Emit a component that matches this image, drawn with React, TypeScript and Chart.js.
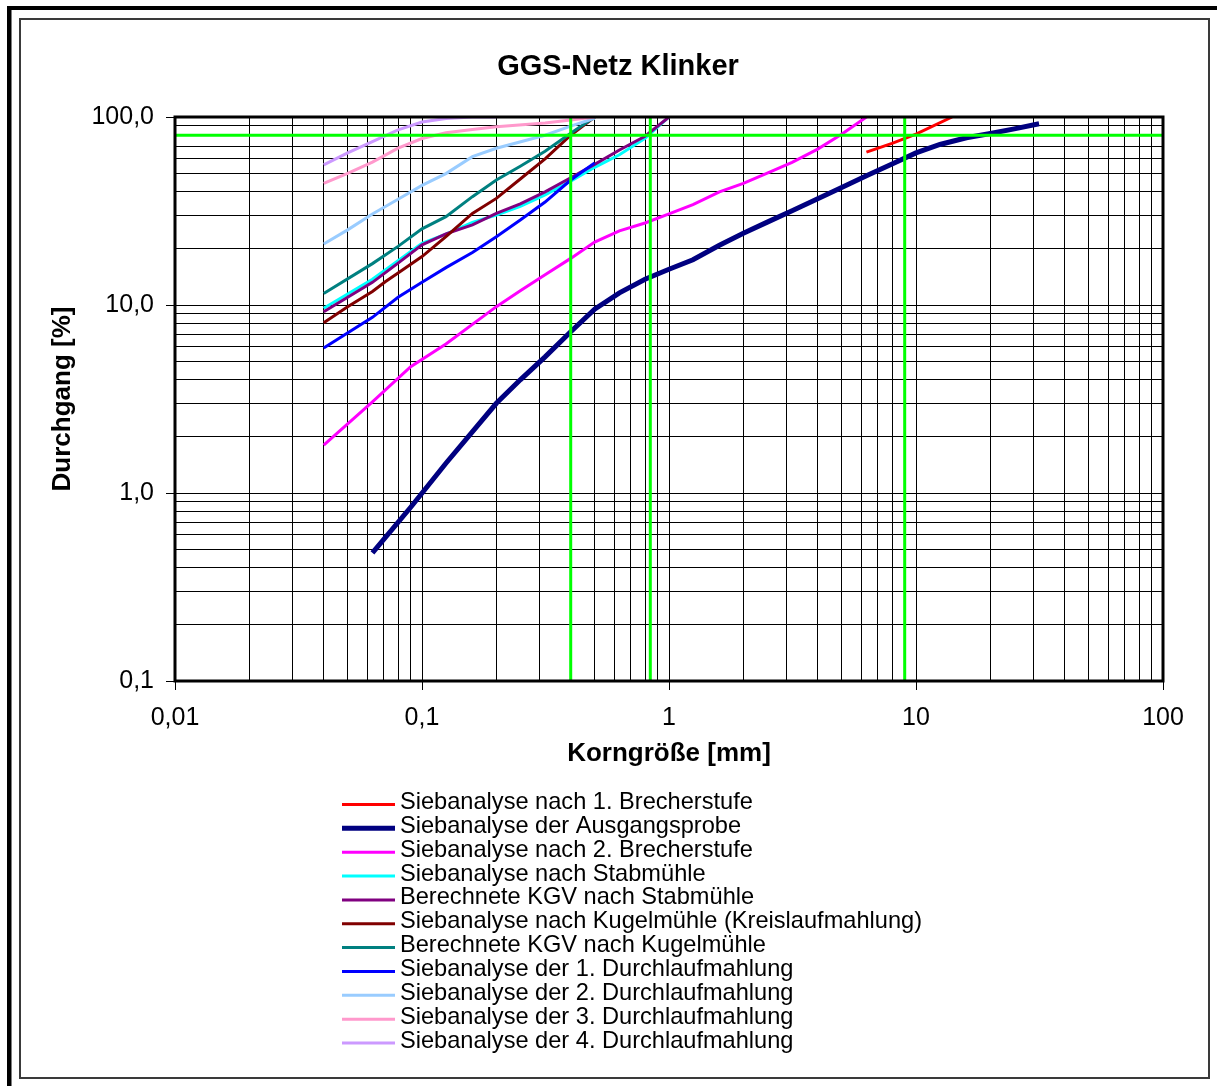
import React, { useEffect, useRef } from "react";
import { Chart, registerables } from "chart.js";

Chart.register(...registerables);

const FONT = '"Liberation Sans", Arial, Helvetica, sans-serif';

const chartTitle = "GGS-Netz Klinker";
const xAxisTitle = "Korngröße [mm]";
const yAxisTitle = "Durchgang [%]";

const xTickValues = [0.01, 0.1, 1, 10, 100];
const xTickLabels = ["0,01", "0,1", "1", "10", "100"];
const yTickValues = [0.1, 1, 10, 100];
const yTickLabels = ["0,1", "1,0", "10,0", "100,0"];

const seriesNames = [
  "Siebanalyse nach 1. Brecherstufe",
  "Siebanalyse der Ausgangsprobe",
  "Siebanalyse nach 2. Brecherstufe",
  "Siebanalyse nach Stabmühle",
  "Berechnete KGV nach Stabmühle",
  "Siebanalyse nach Kugelmühle (Kreislaufmahlung)",
  "Berechnete KGV nach Kugelmühle",
  "Siebanalyse der 1. Durchlaufmahlung",
  "Siebanalyse der 2. Durchlaufmahlung",
  "Siebanalyse der 3. Durchlaufmahlung",
  "Siebanalyse der 4. Durchlaufmahlung",
];
const seriesColors = [
  "#FF0000", "#000080", "#FF00FF", "#00FFFF", "#800080", "#800000",
  "#008080", "#0000FF", "#99CCFF", "#FF99CC", "#CC99FF",
];
const seriesWidths = [3, 5, 3, 3, 3, 3, 3, 3, 3, 3, 3];

// Korngröße [mm] / Durchgang [%]
const brecher1X = [6.3, 8, 10, 14];
const brecher1Y = [65, 72.4, 81, 100];

const ausgangX = [0.063, 0.09, 0.125, 0.2, 0.25, 0.315, 0.4, 0.5, 0.63, 0.8, 1, 1.25, 1.6, 2, 2.5, 3.15, 4, 5, 6.3, 8, 10, 12.5, 16, 20, 25, 31.5];
const ausgangY = [0.48, 0.84, 1.44, 3.0, 4.0, 5.3, 7.2, 9.5, 11.6, 13.7, 15.5, 17.4, 20.8, 24.1, 27.6, 31.7, 36.7, 42.2, 48.7, 56.2, 64.4, 71.4, 77.5, 81.7, 86.5, 92.0];

const brecher2X = [0.04, 0.063, 0.09, 0.125, 0.2, 0.25, 0.315, 0.4, 0.5, 0.63, 0.8, 1, 1.25, 1.6, 2, 2.5, 3.15, 4, 5, 6.3];
const brecher2Y = [1.8, 3.05, 4.7, 6.2, 9.8, 11.9, 14.5, 17.7, 21.6, 24.8, 27.3, 30.5, 34.2, 40, 44.4, 50.3, 57.4, 67.5, 81, 100];

const stabX = [0.04, 0.063, 0.08, 0.1, 0.125, 0.16, 0.2, 0.25, 0.315, 0.4, 0.5, 0.63, 0.8, 1];
const stabY = [9.6, 13.7, 17.2, 21.3, 23.8, 27.5, 30.1, 33.5, 38.5, 45.5, 54, 63, 77, 100];

const kgvStabX = [0.04, 0.063, 0.08, 0.1, 0.125, 0.16, 0.2, 0.25, 0.315, 0.4, 0.5, 0.63, 0.8, 1];
const kgvStabY = [9.2, 13.2, 16.7, 20.9, 23.9, 26.7, 30.7, 34.5, 40, 47.5, 56, 66.8, 79, 100];

const kugelX = [0.04, 0.05, 0.063, 0.071, 0.08, 0.1, 0.125, 0.16, 0.2, 0.25, 0.315, 0.4, 0.5];
const kugelY = [8.05, 9.8, 11.8, 13.3, 14.8, 18.1, 23.1, 30.7, 36.9, 46.8, 59.9, 80, 100];

const kgvKugelX = [0.04, 0.063, 0.08, 0.1, 0.125, 0.16, 0.2, 0.25, 0.315, 0.4, 0.5];
const kgvKugelY = [11.5, 16.6, 20.5, 25.4, 29.5, 37.7, 46.2, 54.7, 65.7, 82, 100];

const durch1X = [0.04, 0.063, 0.08, 0.1, 0.125, 0.16, 0.2, 0.25, 0.315, 0.4, 0.5];
const durch1Y = [5.9, 8.6, 11.0, 13.2, 15.8, 19.0, 23.1, 28.3, 35.3, 46.2, 57];

const durch2X = [0.04, 0.05, 0.063, 0.08, 0.1, 0.125, 0.16, 0.2, 0.315, 0.4, 0.5];
const durch2Y = [21.1, 25.1, 30.5, 36.5, 43.3, 50, 61.5, 68.2, 80, 89.5, 98.5];

const durch3X = [0.04, 0.05, 0.063, 0.08, 0.1, 0.125, 0.16, 0.2, 0.315, 0.4, 0.5];
const durch3Y = [44.4, 50.2, 57.5, 68.3, 76.8, 82.5, 85.8, 88.8, 93, 96.5, 100];

const durch4X = [0.04, 0.05, 0.063, 0.08, 0.1, 0.125, 0.16, 0.2];
const durch4Y = [55.6, 64.5, 74, 85.5, 94, 98.3, 100, 100];

const seriesX = [brecher1X, ausgangX, brecher2X, stabX, kgvStabX, kugelX, kgvKugelX, durch1X, durch2X, durch3X, durch4X];
const seriesY = [brecher1Y, ausgangY, brecher2Y, stabY, kgvStabY, kugelY, kgvKugelY, durch1Y, durch2Y, durch3Y, durch4Y];

// green reference lines
const markerX = [0.4, 0.84, 9];
const markerY = [80];

function logTicks(min: number, max: number) {
  const out: { value: number; major: boolean }[] = [];
  const e0 = Math.round(Math.log10(min));
  const e1 = Math.round(Math.log10(max));
  for (let e = e0; e < e1; e++) {
    for (let k = 1; k <= 9; k++) {
      out.push({ value: Number((k * Math.pow(10, e)).toPrecision(6)), major: k === 1 });
    }
  }
  out.push({ value: max, major: true });
  return out;
}

function labelFor(value: number, vals: number[], labels: string[]) {
  const i = vals.findIndex((v) => Math.abs(v - value) < v * 1e-6);
  return i >= 0 ? labels[i] : "";
}

function isMajorVal(value: number, vals: number[]) {
  return vals.some((v) => Math.abs(v - value) < v * 1e-6);
}

const decorPlugin = {
  id: "decor",
  beforeDraw(chart: any) {
    const { ctx, width, height } = chart;
    ctx.save();
    ctx.fillStyle = "#FFFFFF";
    ctx.fillRect(0, 0, width, height);
    ctx.fillStyle = "#000000";
    ctx.fillRect(7, 6, width - 7, 4);
    ctx.fillRect(7, 6, 4.5, height - 6);
    ctx.strokeStyle = "#3a3a3a";
    ctx.lineWidth = 2;
    ctx.strokeRect(20, 19, 1189, 1059);
    ctx.fillStyle = "#000000";
    ctx.font = `bold 29px ${FONT}`;
    ctx.textAlign = "center";
    ctx.textBaseline = "middle";
    ctx.fillText(chartTitle, 618, 67);
    ctx.restore();
  },
  afterDatasetsDraw(chart: any) {
    const { ctx, chartArea: a, scales } = chart;
    const xs = scales.x;
    const ys = scales.y;
    ctx.save();
    ctx.strokeStyle = "#00FF00";
    ctx.lineWidth = 3;
    ctx.beginPath();
    for (const v of markerX) {
      const px = xs.getPixelForValue(v);
      ctx.moveTo(px, a.top);
      ctx.lineTo(px, a.bottom);
    }
    for (const v of markerY) {
      const py = ys.getPixelForValue(v);
      ctx.moveTo(a.left, py);
      ctx.lineTo(a.right, py);
    }
    ctx.stroke();
    ctx.restore();
  },
  afterDraw(chart: any) {
    const { ctx, chartArea: a } = chart;
    ctx.save();
    ctx.strokeStyle = "#000000";
    ctx.lineWidth = 3;
    ctx.strokeRect(a.left, a.top, a.right - a.left, a.bottom - a.top);
    // legend
    ctx.font = `23.6px ${FONT}`;
    ctx.textAlign = "left";
    ctx.textBaseline = "middle";
    for (let i = 0; i < seriesNames.length; i++) {
      const y = 802.5 + i * 23.85;
      ctx.strokeStyle = seriesColors[i];
      ctx.lineWidth = seriesWidths[i];
      ctx.beginPath();
      ctx.moveTo(342, y + 2);
      ctx.lineTo(395, y + 2);
      ctx.stroke();
      ctx.fillStyle = "#000000";
      ctx.fillText(seriesNames[i], 400, y);
    }
    ctx.restore();
  },
};

export default function App() {
  const ref = useRef<HTMLCanvasElement | null>(null);
  useEffect(() => {
    if (!ref.current) return;
    const datasets = seriesNames.map((name, i) => ({
      label: name,
      data: seriesX[i].map((x, j) => ({ x, y: seriesY[i][j] })),
      borderColor: seriesColors[i],
      backgroundColor: seriesColors[i],
      borderWidth: seriesWidths[i],
      pointRadius: 0,
      showLine: true,
      tension: 0,
      fill: false,
      order: -i,
    }));
    const chart = new Chart(ref.current, {
      type: "scatter",
      data: { datasets },
      plugins: [decorPlugin],
      options: {
        animation: false,
        responsive: false,
        maintainAspectRatio: false,
        devicePixelRatio: 1,
        layout: { padding: { left: 20, top: 117, right: 54, bottom: 316.4 } },
        plugins: {
          legend: { display: false },
          title: { display: false },
          tooltip: { enabled: false },
        },
        scales: {
          x: {
            type: "logarithmic",
            position: "bottom",
            min: 0.01,
            max: 100,
            afterBuildTicks: (s: any) => {
              s.ticks = logTicks(0.01, 100);
            },
            afterFit: (s: any) => {
              s.height = 88.6;
            },
            border: { display: false },
            grid: {
              color: "#000000",
              lineWidth: 1,
              tickLength: 9,
              tickColor: (c: any) => (c.tick && isMajorVal(c.tick.value, xTickValues) ? "#000000" : "rgba(0,0,0,0)"),
            },
            ticks: {
              autoSkip: false,
              maxRotation: 0,
              minRotation: 0,
              padding: 13.5,
              color: "#000000",
              font: { family: FONT, size: 25 },
              callback: (value: any) => labelFor(Number(value), xTickValues, xTickLabels),
            },
            title: {
              display: true,
              text: xAxisTitle,
              color: "#000000",
              font: { family: FONT, size: 26, weight: "bold" },
              padding: { top: 0, bottom: 0 },
            },
          },
          y: {
            type: "logarithmic",
            position: "left",
            min: 0.1,
            max: 100,
            afterBuildTicks: (s: any) => {
              s.ticks = logTicks(0.1, 100);
            },
            afterFit: (s: any) => {
              s.width = 155;
            },
            border: { display: false },
            grid: {
              color: "#000000",
              lineWidth: 1,
              tickLength: 9,
              tickColor: (c: any) => (c.tick && isMajorVal(c.tick.value, yTickValues) ? "#000000" : "rgba(0,0,0,0)"),
            },
            ticks: {
              autoSkip: false,
              padding: 12,
              color: "#000000",
              font: { family: FONT, size: 25 },
              callback: (value: any) => labelFor(Number(value), yTickValues, yTickLabels),
            },
            title: {
              display: true,
              text: yAxisTitle,
              color: "#000000",
              font: { family: FONT, size: 26, weight: "bold" },
              padding: { top: 27, bottom: 0 },
            },
          },
        },
      } as any,
    });
    return () => chart.destroy();
  }, []);
  return (
    <canvas
      ref={ref}
      width={1217}
      height={1086}
      style={{ position: "absolute", left: 0, top: 0, width: 1217, height: 1086, display: "block" }}
    />
  );
}
